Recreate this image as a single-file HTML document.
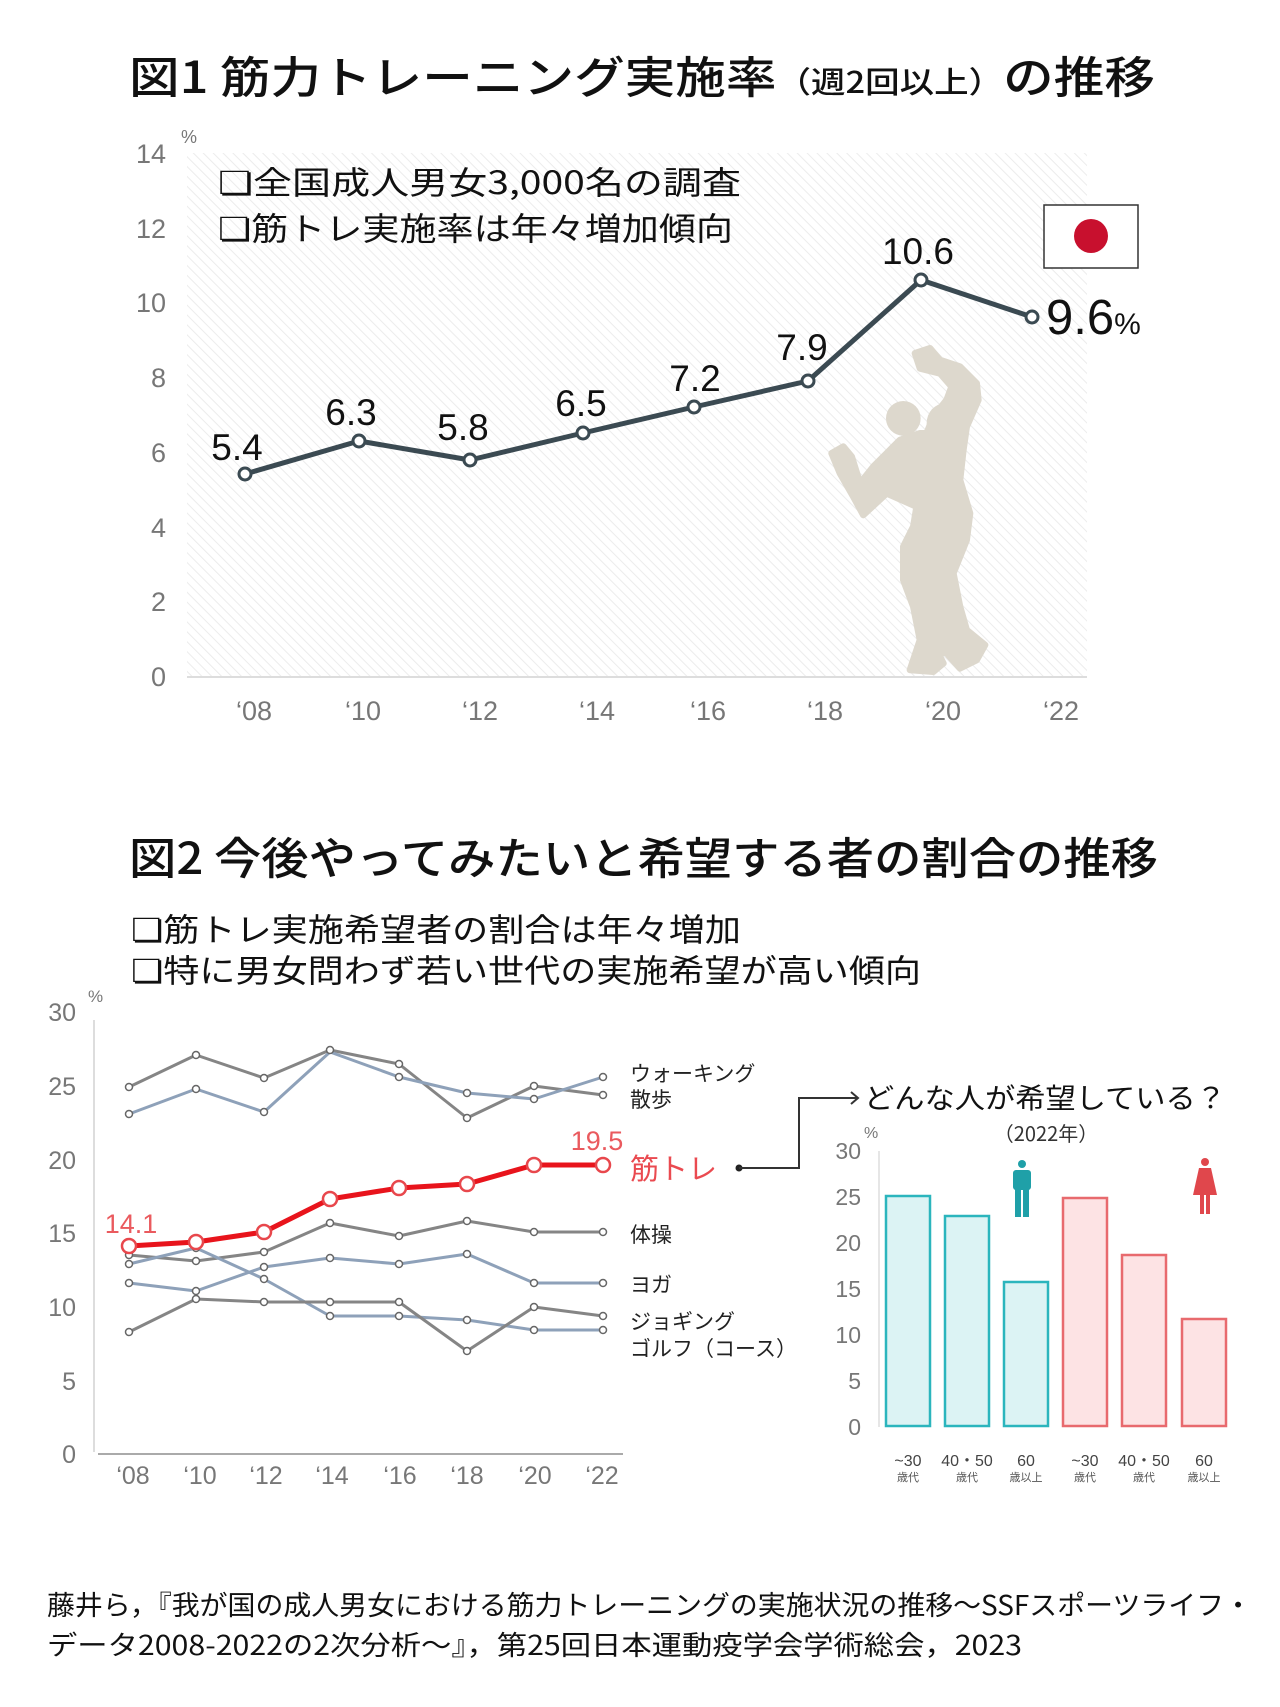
<!DOCTYPE html>
<html><head><meta charset="utf-8"><style>
html,body{margin:0;padding:0;background:#fff;}
svg{display:block;}
text{font-family:"Liberation Sans","Noto Sans CJK JP",sans-serif;}
.jp{font-family:"Noto Sans CJK JP","Liberation Sans",sans-serif;}
</style></head><body>
<svg width="1280" height="1707" viewBox="0 0 1280 1707" xmlns="http://www.w3.org/2000/svg">
<defs>
<pattern id="h" width="7" height="7" patternUnits="userSpaceOnUse" patternTransform="rotate(-45)">
<rect width="7" height="7" fill="#fff"/><line x1="0" y1="0" x2="0" y2="7" stroke="#ececec" stroke-width="2"/>
</pattern>
</defs>
<!-- Title 1 -->
<text x="129" y="93" class="jp" font-size="44" font-weight="500" fill="#111" textLength="1026" lengthAdjust="spacingAndGlyphs">図1 筋力トレーニング実施率<tspan font-size="30">（週2回以上）</tspan>の推移</text>
<!-- chart1 background -->
<rect x="187" y="153" width="900" height="523" fill="url(#h)"/>
<line x1="187" y1="677" x2="1087" y2="677" stroke="#ddd" stroke-width="2"/>
<g font-size="27" fill="#777" text-anchor="end">
<text x="166" y="163">14</text><text x="166" y="238">12</text><text x="166" y="312">10</text>
<text x="166" y="387">8</text><text x="166" y="462">6</text><text x="166" y="537">4</text>
<text x="166" y="611">2</text><text x="166" y="686">0</text>
</g>
<text x="181" y="143" font-size="18" fill="#777">%</text>
<g font-size="27" fill="#777" text-anchor="middle">
<text x="254" y="720">‘08</text><text x="363" y="720">‘10</text><text x="480" y="720">‘12</text><text x="597" y="720">‘14</text>
<text x="708" y="720">‘16</text><text x="825" y="720">‘18</text><text x="943" y="720">‘20</text><text x="1061" y="720">‘22</text>
</g>
<text x="218" y="194" class="jp" font-size="32" fill="#111" textLength="523" lengthAdjust="spacingAndGlyphs">❏全国成人男女3,000名の調査</text>
<text x="218" y="240" class="jp" font-size="32" fill="#111" textLength="515" lengthAdjust="spacingAndGlyphs">❏筋トレ実施率は年々増加傾向</text>
<rect x="1044" y="205" width="94" height="63" fill="#fff" stroke="#333" stroke-width="1.5"/>
<circle cx="1091" cy="236" r="17" fill="#c8102e"/>
<!-- muscle -->
<g transform="translate(820,340) scale(0.3333)" fill="#ddd8cd">
<path stroke="#ddd8cd" stroke-width="20" stroke-linejoin="round" d="M285,40 L330,25 L360,60 L420,80 L470,130 L475,180 L440,260 L430,330 L420,420 L450,520 L440,600 L400,700 L420,800 L440,870 L495,915 L470,960 L420,985 L380,940 L350,930 L370,970 L340,995 L270,990 L300,900 L280,800 L250,720 L250,620 L280,560 L290,500 L200,460 L130,525 L100,470 L60,400 L35,340 L70,320 L95,350 L120,430 L160,380 L200,340 L240,300 L300,280 L320,280 L340,230 L380,180 L395,140 L360,100 L300,85 Z"/>
<circle cx="250" cy="235" r="52"/>
<ellipse cx="375" cy="250" rx="55" ry="60"/>
<ellipse cx="330" cy="650" rx="85" ry="120"/>
</g>
<polyline fill="none" stroke="#3b4a52" stroke-width="5" stroke-linejoin="round" points="245,474 359,441 470,460 583,433 694,407 808,381 921,280 1032,317"/>
<g fill="#fff" stroke="#3b4a52" stroke-width="3">
<circle cx="245" cy="474" r="6"/><circle cx="359" cy="441" r="6"/><circle cx="470" cy="460" r="6"/><circle cx="583" cy="433" r="6"/>
<circle cx="694" cy="407" r="6"/><circle cx="808" cy="381" r="6"/><circle cx="921" cy="280" r="6"/><circle cx="1032" cy="317" r="6"/>
</g>
<g font-size="37" fill="#111" text-anchor="middle">
<text x="237" y="460">5.4</text><text x="351" y="425">6.3</text><text x="463" y="440">5.8</text><text x="581" y="416">6.5</text>
<text x="695" y="391">7.2</text><text x="802" y="360">7.9</text><text x="918" y="264">10.6</text>
</g>
<text x="1046" y="334" font-size="49" fill="#111">9.6<tspan font-size="30">%</tspan></text>

<!-- Title 2 -->
<text x="129" y="874" class="jp" font-size="44" font-weight="500" fill="#111" textLength="1029" lengthAdjust="spacingAndGlyphs">図2 今後やってみたいと希望する者の割合の推移</text>
<text x="131" y="941" class="jp" font-size="32" fill="#111" textLength="610" lengthAdjust="spacingAndGlyphs">❏筋トレ実施希望者の割合は年々増加</text>
<text x="131" y="982" class="jp" font-size="32" fill="#111" textLength="790" lengthAdjust="spacingAndGlyphs">❏特に男女問わず若い世代の実施希望が高い傾向</text>

<!-- chart2 -->
<line x1="94" y1="1020" x2="94" y2="1452" stroke="#ddd" stroke-width="2"/>
<line x1="98" y1="1454" x2="623" y2="1454" stroke="#aaa" stroke-width="2"/>
<g font-size="25" fill="#777" text-anchor="end">
<text x="76" y="1021">30</text><text x="76" y="1095">25</text><text x="76" y="1169">20</text><text x="76" y="1242">15</text>
<text x="76" y="1316">10</text><text x="76" y="1390">5</text><text x="76" y="1463">0</text>
</g>
<text x="88" y="1002" font-size="17" fill="#777">%</text>
<g font-size="25" fill="#777" text-anchor="middle">
<text x="133" y="1484">‘08</text><text x="200" y="1484">‘10</text><text x="266" y="1484">‘12</text><text x="332" y="1484">‘14</text>
<text x="400" y="1484">‘16</text><text x="467" y="1484">‘18</text><text x="535" y="1484">‘20</text><text x="602" y="1484">‘22</text>
</g>
<g fill="none" stroke-width="3" stroke-linejoin="round">
<polyline stroke="#858585" points="129,1087 196,1055 264,1078 330,1050 399,1064 467,1118 534,1086 603,1095"/>
<polyline stroke="#8ea1b9" points="129,1114 196,1089 264,1112 330,1052 399,1077 467,1093 534,1099 603,1077"/>
<polyline stroke="#858585" points="129,1255 196,1261 264,1252 330,1223 399,1236 467,1221 534,1232 603,1232"/>
<polyline stroke="#8ea1b9" points="129,1264 196,1248 264,1279 330,1316 399,1316 467,1320 534,1330 603,1330"/>
<polyline stroke="#8ea1b9" points="129,1283 196,1291 264,1267 330,1258 399,1264 467,1254 534,1283 603,1283"/>
<polyline stroke="#858585" points="129,1332 196,1299 264,1302 330,1302 399,1302 467,1351 534,1307 603,1316"/>
</g>
<g fill="#fff" stroke="#666" stroke-width="1.5">
<circle cx="129" cy="1087" r="3.5"/><circle cx="196" cy="1055" r="3.5"/><circle cx="264" cy="1078" r="3.5"/><circle cx="330" cy="1050" r="3.5"/><circle cx="399" cy="1064" r="3.5"/><circle cx="467" cy="1118" r="3.5"/><circle cx="534" cy="1086" r="3.5"/><circle cx="603" cy="1095" r="3.5"/>
<circle cx="129" cy="1114" r="3.5"/><circle cx="196" cy="1089" r="3.5"/><circle cx="264" cy="1112" r="3.5"/><circle cx="399" cy="1077" r="3.5"/><circle cx="467" cy="1093" r="3.5"/><circle cx="534" cy="1099" r="3.5"/><circle cx="603" cy="1077" r="3.5"/>
<circle cx="129" cy="1255" r="3.5"/><circle cx="196" cy="1261" r="3.5"/><circle cx="264" cy="1252" r="3.5"/><circle cx="330" cy="1223" r="3.5"/><circle cx="399" cy="1236" r="3.5"/><circle cx="467" cy="1221" r="3.5"/><circle cx="534" cy="1232" r="3.5"/><circle cx="603" cy="1232" r="3.5"/>
<circle cx="129" cy="1264" r="3.5"/><circle cx="196" cy="1248" r="3.5"/><circle cx="264" cy="1279" r="3.5"/><circle cx="330" cy="1316" r="3.5"/><circle cx="399" cy="1316" r="3.5"/><circle cx="467" cy="1320" r="3.5"/><circle cx="534" cy="1330" r="3.5"/><circle cx="603" cy="1330" r="3.5"/>
<circle cx="129" cy="1283" r="3.5"/><circle cx="196" cy="1291" r="3.5"/><circle cx="264" cy="1267" r="3.5"/><circle cx="330" cy="1258" r="3.5"/><circle cx="399" cy="1264" r="3.5"/><circle cx="467" cy="1254" r="3.5"/><circle cx="534" cy="1283" r="3.5"/><circle cx="603" cy="1283" r="3.5"/>
<circle cx="129" cy="1332" r="3.5"/><circle cx="196" cy="1299" r="3.5"/><circle cx="264" cy="1302" r="3.5"/><circle cx="330" cy="1302" r="3.5"/><circle cx="399" cy="1302" r="3.5"/><circle cx="467" cy="1351" r="3.5"/><circle cx="534" cy="1307" r="3.5"/><circle cx="603" cy="1316" r="3.5"/>
</g>
<polyline fill="none" stroke="#e8141c" stroke-width="5" stroke-linejoin="round" points="129,1246 196,1242 264,1232 330,1199 399,1188 467,1184 534,1165 603,1165"/>
<g fill="#fff" stroke="#e8474c" stroke-width="2.5">
<circle cx="129" cy="1246" r="7"/><circle cx="196" cy="1242" r="7"/><circle cx="264" cy="1232" r="7"/><circle cx="330" cy="1199" r="7"/>
<circle cx="399" cy="1188" r="7"/><circle cx="467" cy="1184" r="7"/><circle cx="534" cy="1165" r="7"/><circle cx="603" cy="1165" r="7"/>
</g>
<text x="597" y="1150" font-size="27" fill="#ea5a5e" text-anchor="middle">19.5</text>
<text x="131" y="1233" font-size="27" fill="#ea5a5e" text-anchor="middle">14.1</text>
<g class="jp" font-size="21" fill="#222">
<text x="630" y="1081">ウォーキング</text><text x="630" y="1107">散歩</text>
<text x="630" y="1242">体操</text><text x="630" y="1292">ヨガ</text>
<text x="630" y="1329">ジョギング</text><text x="630" y="1356">ゴルフ（コース）</text>
</g>
<text x="630" y="1179" class="jp" font-size="29" fill="#ea4a50">筋トレ</text>
<circle cx="739" cy="1168" r="3.5" fill="#222"/>
<polyline fill="none" stroke="#333" stroke-width="2" points="739,1168 799,1168 799,1098 858,1098"/>
<polyline fill="none" stroke="#333" stroke-width="2" points="851,1092 858,1098 851,1104"/>
<text x="864" y="1108" class="jp" font-size="28" fill="#111" textLength="362" lengthAdjust="spacingAndGlyphs">どんな人が希望している？</text>
<text x="1046" y="1141" class="jp" font-size="20" fill="#333" text-anchor="middle">（2022年）</text>
<!-- bar chart -->
<line x1="879" y1="1151" x2="879" y2="1427" stroke="#ddd" stroke-width="1.5"/>
<g font-size="23" fill="#777" text-anchor="end">
<text x="861" y="1159">30</text><text x="861" y="1205">25</text><text x="861" y="1251">20</text><text x="861" y="1297">15</text>
<text x="861" y="1343">10</text><text x="861" y="1389">5</text><text x="861" y="1435">0</text>
</g>
<text x="864" y="1138" font-size="16" fill="#777">%</text>
<g fill="#dcf3f4" stroke="#2bb5bd" stroke-width="2.5">
<rect x="886" y="1196" width="44" height="230"/><rect x="945" y="1216" width="44" height="210"/><rect x="1004" y="1282" width="44" height="144"/>
</g>
<g fill="#fde3e4" stroke="#e86a6e" stroke-width="2.5">
<rect x="1063" y="1198" width="44" height="228"/><rect x="1122" y="1255" width="44" height="171"/><rect x="1182" y="1319" width="44" height="107"/>
</g>
<!-- man icon -->
<g fill="#1fa0a8">
<circle cx="1022" cy="1164" r="4"/>
<rect x="1013" y="1170" width="18" height="20" rx="3"/>
<rect x="1015" y="1186" width="6" height="31"/><rect x="1023" y="1186" width="6" height="31"/>
</g>
<!-- woman icon -->
<g fill="#e0474c">
<circle cx="1205" cy="1162" r="4"/>
<polygon points="1199,1168 1211,1168 1217,1195 1193,1195"/>
<rect x="1200" y="1193" width="4" height="21"/><rect x="1206" y="1193" width="4" height="21"/>
</g>
<g font-size="16" fill="#444" text-anchor="middle">
<text x="908" y="1466">~30</text><text x="967" y="1466">40・50</text><text x="1026" y="1466">60</text>
<text x="1085" y="1466">~30</text><text x="1144" y="1466">40・50</text><text x="1204" y="1466">60</text>
</g>
<g class="jp" font-size="11" fill="#555" text-anchor="middle">
<text x="908" y="1481">歳代</text><text x="967" y="1481">歳代</text><text x="1026" y="1481">歳以上</text>
<text x="1085" y="1481">歳代</text><text x="1144" y="1481">歳代</text><text x="1204" y="1481">歳以上</text>
</g>
<!-- footer -->
<text x="47" y="1615" class="jp" font-size="27" fill="#111" textLength="1205" lengthAdjust="spacingAndGlyphs">藤井ら，『我が国の成人男女における筋力トレーニングの実施状況の推移～SSFスポーツライフ・</text>
<text x="47" y="1655" class="jp" font-size="27" fill="#111" textLength="975" lengthAdjust="spacingAndGlyphs">データ2008-2022の2次分析～』，第25回日本運動疫学会学術総会，2023</text>
</svg>
</body></html>
